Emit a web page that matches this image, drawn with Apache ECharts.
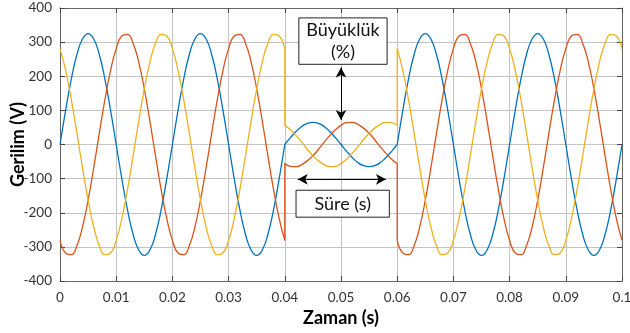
<!DOCTYPE html>
<html>
<head>
<meta charset="utf-8">
<title>Gerilim çökmesi</title>
<script src="https://cdn.jsdelivr.net/npm/echarts@6/dist/echarts.min.js"></script>
<style>
  html, body { margin: 0; padding: 0; background: #fff; }
  #chart { width: 630px; height: 333px; }
</style>
</head>
<body>
<div id="chart"></div>
<script>
// sampling step of the recorded waveforms (s)
const sampleStep = 0.001;
// start of each stretch: before the sag, the sag, after the sag
const segmentStarts = [0, 0.04, 0.06];

// phase A (blue)
const blueBefore = [
  0, 100, 191, 263, 309, 325, 309, 263, 191, 100, 0, -100, -191, -263, -309, -325, -309, -263, -191, -100,
  0, 100, 191, 263, 309, 325, 309, 263, 191, 100, 0, -100, -191, -263, -309, -325, -309, -263, -191, -100,
  0
];
const blueSag = [0, 20, 38, 53, 62, 65, 62, 53, 38, 20, 0, -20, -38, -53, -62, -65, -62, -53, -38, -20, 0];
const blueAfter = [
  0, 100, 191, 263, 309, 325, 309, 263, 191, 100, 0, -100, -191, -263, -309, -325, -309, -263, -191, -100,
  0, 100, 191, 263, 309, 325, 309, 263, 191, 100, 0, -100, -191, -263, -309, -325, -309, -263, -191, -100,
  0
];

// phase B (red)
const redBefore = [
  -281, -318, -323, -297, -242, -163, -68, 34, 132, 217, 281, 318, 323, 297, 242, 163, 68, -34, -132, -217,
  -281, -318, -323, -297, -242, -163, -68, 34, 132, 217, 281, 318, 323, 297, 242, 163, 68, -34, -132, -217,
  -281
];
const redSag = [-56, -64, -65, -59, -48, -33, -14, 7, 26, 43, 56, 64, 65, 59, 48, 33, 14, -7, -26, -43, -56];
const redAfter = [
  -281, -318, -323, -297, -242, -163, -68, 34, 132, 217, 281, 318, 323, 297, 242, 163, 68, -34, -132, -217,
  -281, -318, -323, -297, -242, -163, -68, 34, 132, 217, 281, 318, 323, 297, 242, 163, 68, -34, -132, -217,
  -281
];

// phase C (yellow)
const yellowBefore = [
  281, 217, 132, 34, -68, -163, -242, -297, -323, -318, -281, -217, -132, -34, 68, 163, 242, 297, 323, 318,
  281, 217, 132, 34, -68, -163, -242, -297, -323, -318, -281, -217, -132, -34, 68, 163, 242, 297, 323, 318,
  281
];
const yellowSag = [56, 43, 26, 7, -14, -33, -48, -59, -65, -64, -56, -43, -26, -7, 14, 33, 48, 59, 65, 64, 56];
const yellowAfter = [
  281, 217, 132, 34, -68, -163, -242, -297, -323, -318, -281, -217, -132, -34, 68, 163, 242, 297, 323, 318,
  281, 217, 132, 34, -68, -163, -242, -297, -323, -318, -281, -217, -132, -34, 68, 163, 242, 297, 323, 318,
  281
];

const FONT = "Lato, 'Open Sans', sans-serif";

function toPairs(values, start) {
  return values.map((v, i) => [+(start + i * sampleStep).toFixed(4), v]);
}

// smooth curve, broken at the sag edges
function waveData(before, sag, after) {
  return [].concat(
    toPairs(before, segmentStarts[0]), [[segmentStarts[1], "-"]],
    toPairs(sag, segmentStarts[1]), [[segmentStarts[2], "-"]],
    toPairs(after, segmentStarts[2])
  );
}

// straight vertical steps at the sag edges
function stepData(before, sag, after) {
  return [
    [segmentStarts[1], before[before.length - 1]], [segmentStarts[1], sag[0]],
    [segmentStarts[1], "-"],
    [segmentStarts[2], sag[sag.length - 1]], [segmentStarts[2], after[0]]
  ];
}

const phases = [
  { color: "#0072BD", before: blueBefore, sag: blueSag, after: blueAfter },
  { color: "#D95319", before: redBefore, sag: redSag, after: redAfter },
  { color: "#EDB120", before: yellowBefore, sag: yellowSag, after: yellowAfter }
];

const series = [];
phases.forEach((p) => {
  series.push({
    type: "line", smooth: true, symbol: "none", connectNulls: false,
    data: waveData(p.before, p.sag, p.after),
    lineStyle: { color: p.color, width: 1.3 }
  });
  series.push({
    type: "line", symbol: "none", connectNulls: false,
    data: stepData(p.before, p.sag, p.after),
    lineStyle: { color: p.color, width: 1.3 }
  });
});

// annotations: boxes and double arrows
series.push({
  type: "line", data: [], silent: true,
  markArea: {
    silent: true,
    itemStyle: { color: "#fff", borderColor: "#222", borderWidth: 1 },
    label: {
      show: true, position: "inside", formatter: "{b}",
      fontFamily: FONT, fontSize: 18, color: "#111", lineHeight: 22
    },
    data: [
      [{ name: "Büyüklük\n(%)", coord: [0.0425, 371] }, { coord: [0.0582, 235] }],
      [{ name: "Süre (s)", coord: [0.042, -134] }, { coord: [0.0586, -213] }]
    ]
  },
  markLine: {
    silent: true,
    symbol: ["arrow", "arrow"],
    symbolSize: [8, 10],
    label: { show: false },
    lineStyle: { color: "#000", width: 1, type: "solid" },
    data: [
      [{ coord: [0.05, 226] }, { coord: [0.05, 72] }],
      [{ coord: [0.0423, -102] }, { coord: [0.058, -102] }]
    ]
  }
});

const axisLineStyle = { show: true, onZero: false, lineStyle: { color: "#666", width: 1 } };
const tickStyle = { show: true, inside: true, length: 5, lineStyle: { color: "#444" } };

const chart = echarts.init(document.getElementById("chart"));
chart.setOption({
  animation: false,
  textStyle: { fontFamily: FONT },
  grid: { left: 60, right: 8, top: 8, bottom: 52, containLabel: false, outerBoundsMode: "none" },
  xAxis: [
    {
      type: "value", min: 0, max: 0.1, interval: 0.01,
      name: "Zaman (s)", nameLocation: "middle", nameGap: 28, nameMoveOverlap: false,
      nameTextStyle: { fontFamily: FONT, fontWeight: "bold", fontSize: 18, color: "#000" },
      axisLine: axisLineStyle,
      axisTick: tickStyle,
      axisLabel: { fontFamily: FONT, fontSize: 13.5, color: "#333", margin: 10 },
      splitLine: { show: true, lineStyle: { color: "#c4c4c4", width: 1 } }
    },
    {
      type: "value", min: 0, max: 0.1, interval: 0.01, position: "top",
      axisLine: axisLineStyle,
      axisTick: tickStyle,
      axisLabel: { show: false },
      splitLine: { show: false }
    }
  ],
  yAxis: [
    {
      type: "value", min: -400, max: 400, interval: 100,
      name: "Gerilim (V)", nameLocation: "middle", nameGap: 33, nameMoveOverlap: false,
      nameTextStyle: { fontFamily: FONT, fontWeight: "bold", fontSize: 18, color: "#000" },
      axisLine: axisLineStyle,
      axisTick: tickStyle,
      axisLabel: { fontFamily: FONT, fontSize: 13.5, color: "#333", margin: 8 },
      splitLine: { show: true, lineStyle: { color: "#c4c4c4", width: 1 } }
    },
    {
      type: "value", min: -400, max: 400, interval: 100, position: "right",
      axisLine: axisLineStyle,
      axisTick: tickStyle,
      axisLabel: { show: false },
      splitLine: { show: false }
    }
  ],
  series: series
});
</script>
</body>
</html>
